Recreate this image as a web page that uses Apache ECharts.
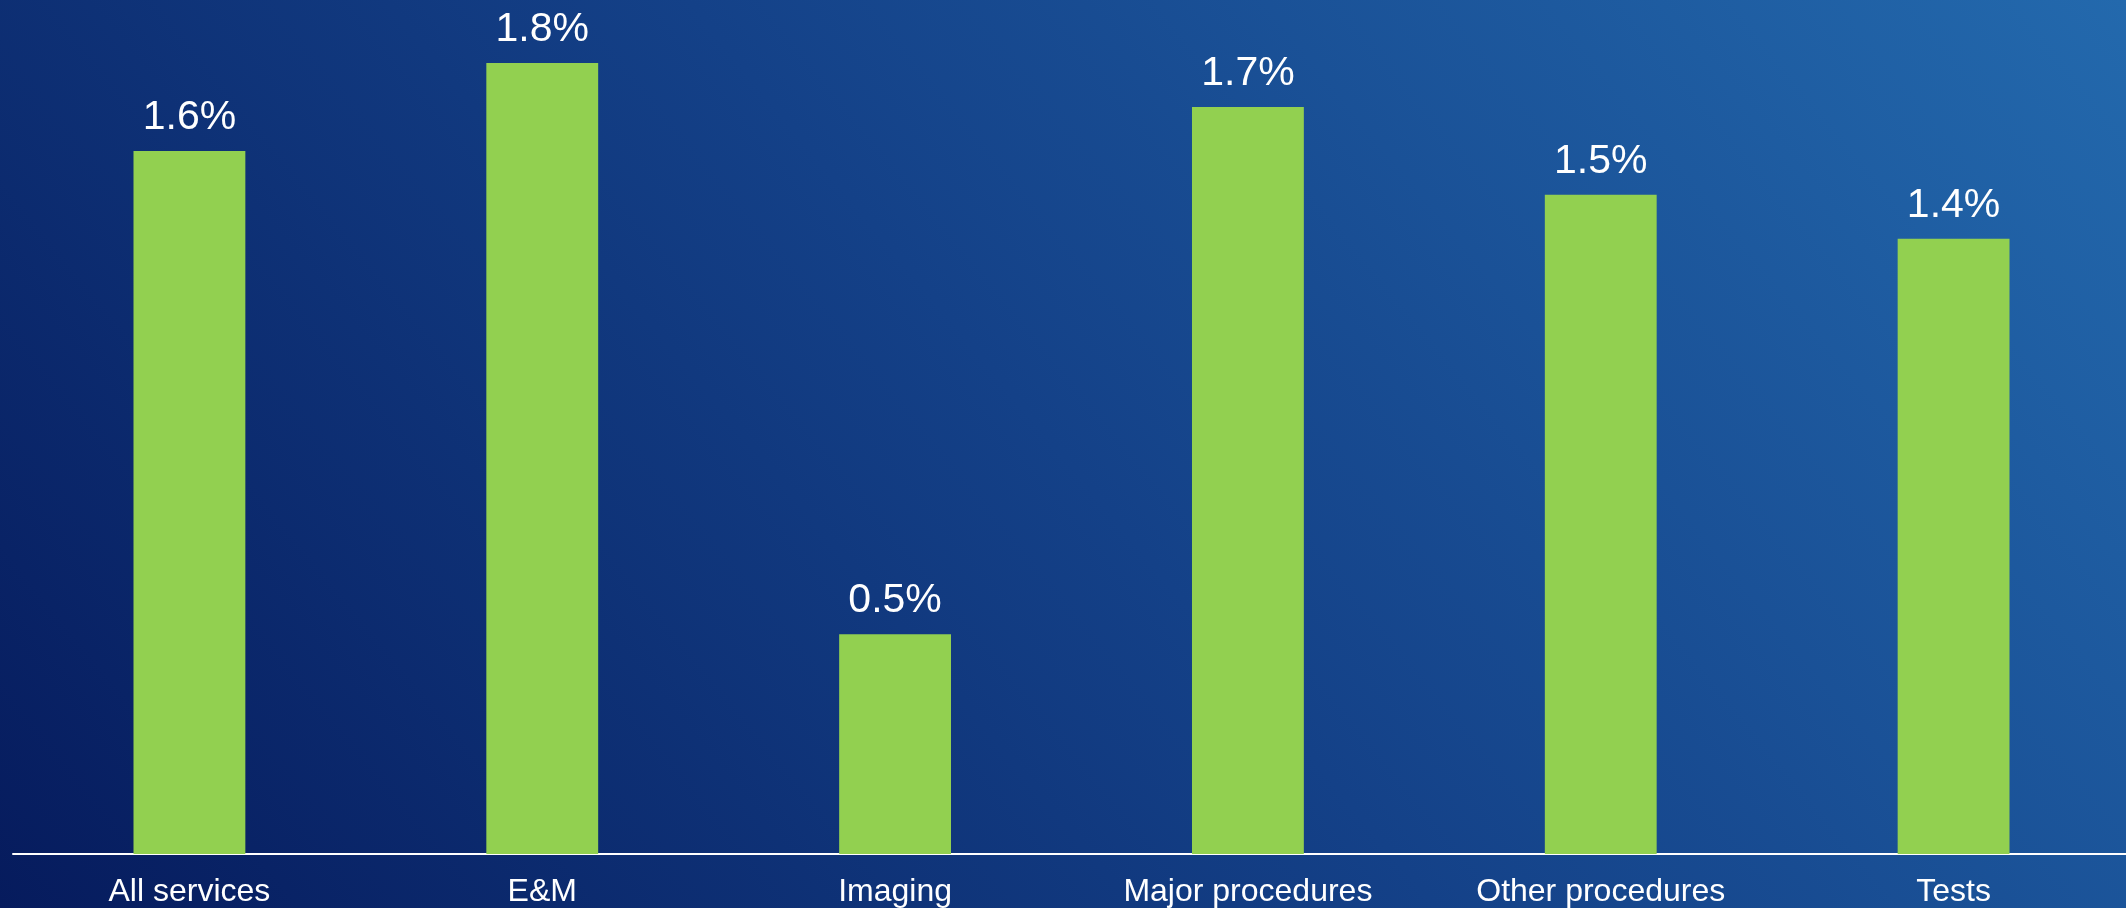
<!DOCTYPE html>
<html>
<head>
<meta charset="utf-8">
<script src="https://cdn.jsdelivr.net/npm/echarts@6/dist/echarts.min.js"></script>
<style>
  html, body { margin: 0; padding: 0; }
  body { width: 2126px; height: 908px; overflow: hidden;
         background: linear-gradient(50.5deg, #061b5d 0%, #144188 50%, #2369ad 100%); }
  #chart { width: 2126px; height: 908px; }
</style>
</head>
<body>
<div id="chart"></div>
<script>
const categories = ["All services", "E&M", "Imaging", "Major procedures", "Other procedures", "Tests"];
const values = [1.6, 1.8, 0.5, 1.7, 1.5, 1.4];

const FONT = "'Liberation Sans', Arial, sans-serif";
const chart = echarts.init(document.getElementById('chart'), null, { renderer: 'canvas' });
chart.setOption({
  backgroundColor: 'transparent',
  animation: false,
  grid: { left: 13, width: 2117, top: 63, bottom: 54, containLabel: false, outerBoundsMode: 'none' },
  xAxis: {
    type: 'category',
    data: categories,
    axisLine: { show: true, lineStyle: { color: '#ffffff', width: 2 } },
    axisTick: { show: false },
    axisLabel: {
      color: '#ffffff', fontSize: 32, fontFamily: FONT,
      margin: 22, interval: 0
    }
  },
  yAxis: {
    type: 'value', min: 0, max: 1.8, show: false,
    splitLine: { show: false }
  },
  series: [{
    type: 'bar',
    data: values,
    barWidth: '31.7%',
    itemStyle: { color: '#92d050' },
    label: {
      show: true, position: 'top', distance: 13,
      color: '#ffffff', fontSize: 41, fontFamily: FONT,
      formatter: p => p.value.toFixed(1) + '%'
    }
  }]
});
</script>
</body>
</html>
